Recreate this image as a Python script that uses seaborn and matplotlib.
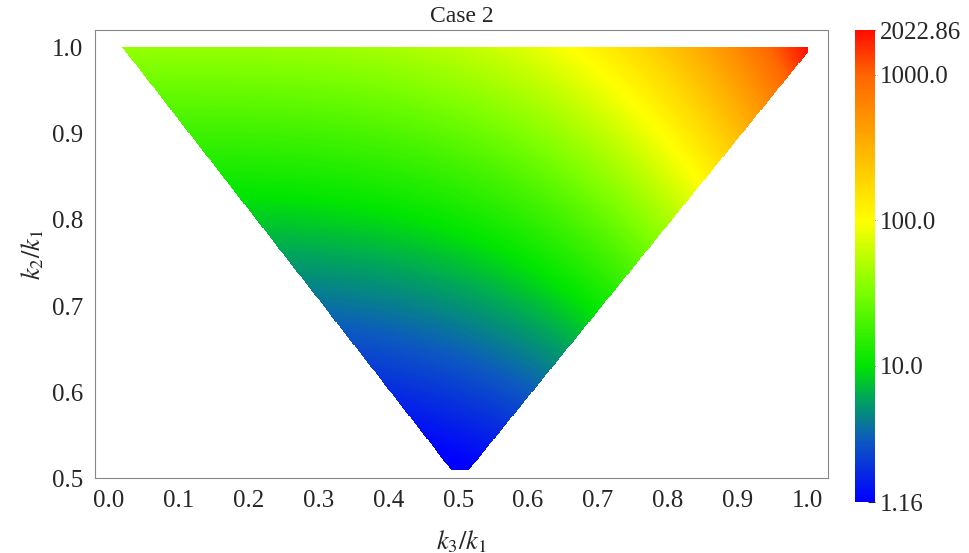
import numpy as np
import matplotlib
matplotlib.use("Agg")
import matplotlib.pyplot as plt
import seaborn as sns
from matplotlib.colors import LinearSegmentedColormap, LogNorm

sns.set_style("white")
plt.rcParams['font.family'] = ['Liberation Serif', 'DejaVu Serif']
plt.rcParams['mathtext.fontset'] = 'stix'

# read-off values
vmin, vmax = 1.16, 2022.86
cbar_ticks = [1.16, 10.0, 100.0, 1000.0, 2022.86]
cbar_labels = ["1.16", "10.0", "100.0", "1000.0", "2022.86"]
x_ticks = [0.0, 0.1, 0.2, 0.3, 0.4, 0.5, 0.6, 0.7, 0.8, 0.9, 1.0]
y_ticks = [0.5, 0.6, 0.7, 0.8, 0.9, 1.0]
# estimated model coefficients of log10 value: A(y)+B(x)
a_top, a_slope, b_amp, b_pow = 1.6, 3.5, 1.7, 3.5

x = np.linspace(0, 1, 700)
y = np.linspace(0.5, 1, 450)
X, Y = np.meshgrid(x, y)
L = a_top - a_slope * (1 - Y) + b_amp * X ** b_pow
Z = np.clip(10 ** L, vmin, vmax)
mask = (X < 0.02 + 0.959 * (1 - Y)) | (X > Y + 0.006) | (Y < 0.51)
Z = np.ma.masked_where(mask, Z)

cmap = LinearSegmentedColormap.from_list("c", [
    (0.0, (0.0, 0.0, 1.0)), (0.13, (0.05, 0.35, 0.75)), (0.22, (0.0, 0.65, 0.35)),
    (0.289, (0.0, 0.9, 0.0)), (0.45, (0.5, 1.0, 0.0)), (0.597, (1.0, 1.0, 0.0)),
    (0.906, (1.0, 0.4, 0.0)), (1.0, (1.0, 0.05, 0.0))])

fig = plt.figure(figsize=(9.69, 5.53), dpi=100)
ax = fig.add_axes([0.098, 0.135, 0.757, 0.81])
cax = fig.add_axes([0.882, 0.092, 0.021, 0.853])
m = ax.pcolormesh(X, Y, Z, cmap=cmap, norm=LogNorm(vmin, vmax), shading="auto", rasterized=True)
ax.set_xlim(-0.02, 1.03)
ax.set_ylim(0.5, 1.02)
ax.set_xticks(x_ticks)
ax.set_yticks(y_ticks)
ax.tick_params(direction="out", labelsize=18, length=5, color="#666666")
for s in ax.spines.values():
    s.set_color("#888888")
ax.set_xlabel(r"$k_3/k_1$", fontsize=19, labelpad=12)
ax.set_ylabel(r"$k_2/k_1$", fontsize=19)
ax.set_title("Case 2", fontsize=17)
cb = fig.colorbar(m, cax=cax)
cb.set_ticks(cbar_ticks)
cb.set_ticklabels(cbar_labels)
cb.ax.minorticks_off()
cb.ax.tick_params(labelsize=18, direction="in", length=5)
cb.outline.set_visible(False)
fig.savefig("out.png", dpi=100)
